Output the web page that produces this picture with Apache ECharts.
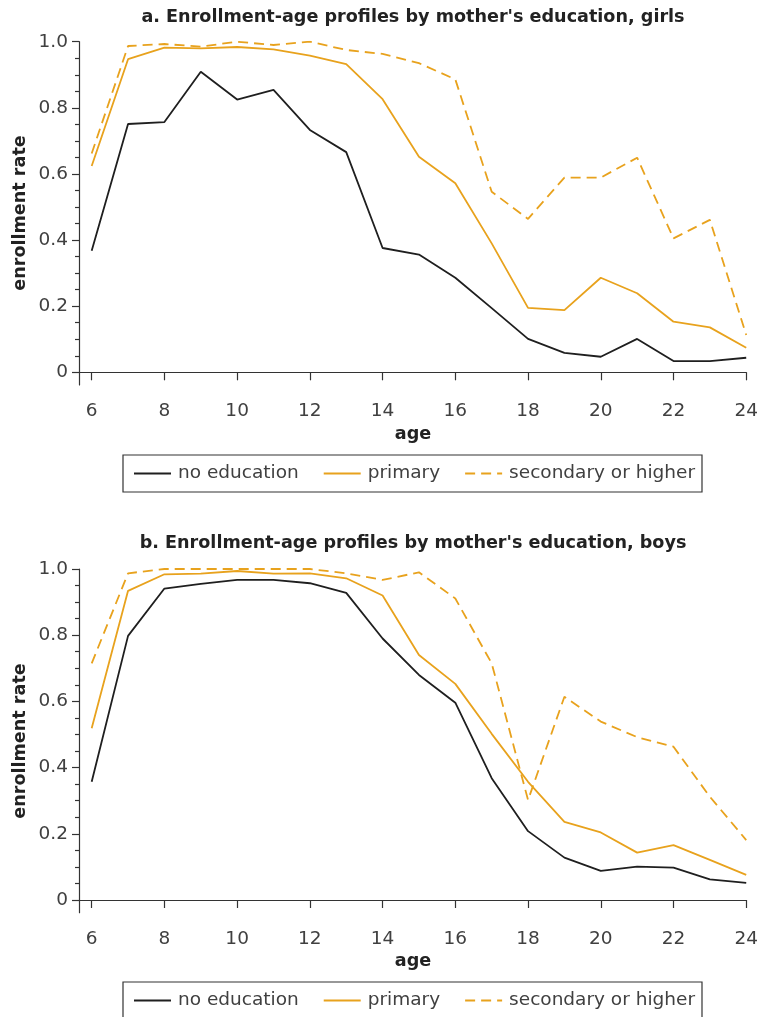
<!DOCTYPE html>
<html>
<head>
<meta charset="utf-8">
<script src="https://cdn.jsdelivr.net/npm/echarts@6/dist/echarts.min.js"></script>
<style>
html,body{margin:0;padding:0;background:#fff;}
#chart{width:761px;height:1017px;}
</style>
</head>
<body>
<div id="chart"></div>
<script>
const ages = [6,7,8,9,10,11,12,13,14,15,16,17,18,19,20,21,22,23,24];
const seriesNames = ['no education','primary','secondary or higher'];
const girlsNoEdu = [0.368,0.751,0.757,0.909,0.825,0.854,0.733,0.666,0.376,0.356,0.286,0.194,0.101,0.059,0.047,0.101,0.034,0.034,0.044];
const girlsPrimary = [0.624,0.947,0.982,0.980,0.984,0.977,0.958,0.932,0.826,0.652,0.572,0.390,0.195,0.188,0.286,0.239,0.153,0.136,0.074];
const girlsSecondary = [0.662,0.987,0.993,0.985,1.000,0.990,1.000,0.975,0.963,0.935,0.886,0.546,0.464,0.589,0.589,0.649,0.405,0.461,0.113];
const boysNoEdu = [0.357,0.798,0.941,0.955,0.967,0.967,0.957,0.928,0.790,0.680,0.596,0.368,0.208,0.128,0.088,0.101,0.098,0.062,0.052];
const boysPrimary = [0.519,0.934,0.984,0.986,0.994,0.986,0.987,0.972,0.920,0.740,0.653,0.502,0.357,0.236,0.204,0.143,0.166,0.121,0.076];
const boysSecondary = [0.715,0.987,1.000,1.000,1.000,1.000,1.000,0.987,0.967,0.990,0.911,0.715,0.302,0.614,0.539,0.492,0.463,0.312,0.181];
const xTickLabels = [6,8,10,12,14,16,18,20,22,24];
const yTickLabels = [0,0.2,0.4,0.6,0.8,1.0];
const yMinorTicks = [0.05,0.1,0.15,0.25,0.3,0.35,0.45,0.5,0.55,0.65,0.7,0.75,0.85,0.9,0.95];
const titles = ["a. Enrollment-age profiles by mother's education, girls", "b. Enrollment-age profiles by mother's education, boys"];

const BLACK = '#1f1f1f';
const ORANGE = '#E8A21D';
const AXIS = '#333333';
const TXT = '#404040';
const LABEL_FONT = 'DejaVu Sans';
const BOLD = 'bold 17.6px "DejaVu Sans"';

const chart = echarts.init(document.getElementById('chart'), null, {renderer:'canvas'});

const grids = [
  {left:79, right:14, top:41.7, height:343.3},
  {left:79, right:14, top:569, height:343.7}
];

function xAxisFor(i){
  return {
    type:'value', gridIndex:i, min:5.651, max:24,
    axisLine:{show:true, lineStyle:{color:AXIS, width:1.2}},
    axisTick:{show:true, customValues:xTickLabels, length:8, lineStyle:{color:AXIS, width:1.2}},
    axisLabel:{customValues:xTickLabels, margin:17, fontSize:18.5, fontFamily:LABEL_FONT, color:TXT},
    splitLine:{show:false}
  };
}
function yAxisMajor(i){
  return {
    type:'value', gridIndex:i, min:-0.0384, max:1, position:'left',
    axisLine:{show:true, lineStyle:{color:AXIS, width:1.2}},
    axisTick:{show:true, customValues:yTickLabels, length:7, lineStyle:{color:AXIS, width:1.2}},
    axisLabel:{customValues:yTickLabels, margin:11, fontSize:18.5, fontFamily:LABEL_FONT, color:TXT,
      formatter:function(v){return Math.abs(v)<1e-9 ? '0' : v.toFixed(1);}},
    splitLine:{show:false}
  };
}
function yAxisMinor(i){
  return {
    type:'value', gridIndex:i, min:-0.0384, max:1, position:'left', offset:0,
    axisLine:{show:false},
    axisTick:{show:true, customValues:yMinorTicks, length:4, lineStyle:{color:AXIS, width:1.2}},
    axisLabel:{show:false},
    splitLine:{show:false}
  };
}

function mk(name, arr, xi, yi, color, dashed){
  return {
    name:name, type:'line', xAxisIndex:xi, yAxisIndex:yi,
    data: ages.map((a,k)=>[a, arr[k]]),
    symbol:'none', showSymbol:false, animation:false,
    lineStyle:{color:color, width:1.8, type: dashed ? [10,6] : 'solid'},
    itemStyle:{color:color}
  };
}

const legendBase = {
  data:seriesNames,
  left:123,
  orient:'horizontal',
  itemWidth:37, itemHeight:14, itemGap:24,
  itemStyle:{opacity:0},
  borderColor:'#333', borderWidth:1.2, borderRadius:0,
  padding:[9,7,9,10],
  textStyle:{fontSize:18.5, fontFamily:LABEL_FONT, color:TXT, padding:[0,0,0,2]},
  selectedMode:false
};

const option = {
  backgroundColor:'#ffffff',
  animation:false,
  grid:grids,
  xAxis:[xAxisFor(0), xAxisFor(1)],
  yAxis:[yAxisMajor(0), yAxisMinor(0), yAxisMajor(1), yAxisMinor(1)],
  legend:[
    Object.assign({}, legendBase, {top:455}),
    Object.assign({}, legendBase, {top:982})
  ],
  graphic:[
    {type:'text', x:413, y:17, style:{text:titles[0], font:BOLD, fill:'#222', align:'center', verticalAlign:'middle'}},
    {type:'text', x:413, y:543.5, style:{text:titles[1], font:BOLD, fill:'#222', align:'center', verticalAlign:'middle'}},
    {type:'text', x:20, y:213, rotation:Math.PI/2, style:{text:'enrollment rate', font:BOLD, fill:'#222', align:'center', verticalAlign:'middle'}},
    {type:'text', x:20, y:741, rotation:Math.PI/2, style:{text:'enrollment rate', font:BOLD, fill:'#222', align:'center', verticalAlign:'middle'}},
    {type:'text', x:413, y:434, style:{text:'age', font:BOLD, fill:'#222', align:'center', verticalAlign:'middle'}},
    {type:'text', x:413, y:961, style:{text:'age', font:BOLD, fill:'#222', align:'center', verticalAlign:'middle'}}
  ],
  series:[
    mk(seriesNames[0], girlsNoEdu, 0, 0, BLACK, false),
    mk(seriesNames[1], girlsPrimary, 0, 0, ORANGE, false),
    mk(seriesNames[2], girlsSecondary, 0, 0, ORANGE, true),
    mk(seriesNames[0], boysNoEdu, 1, 2, BLACK, false),
    mk(seriesNames[1], boysPrimary, 1, 2, ORANGE, false),
    mk(seriesNames[2], boysSecondary, 1, 2, ORANGE, true)
  ]
};
chart.setOption(option);
</script>
</body>
</html>
